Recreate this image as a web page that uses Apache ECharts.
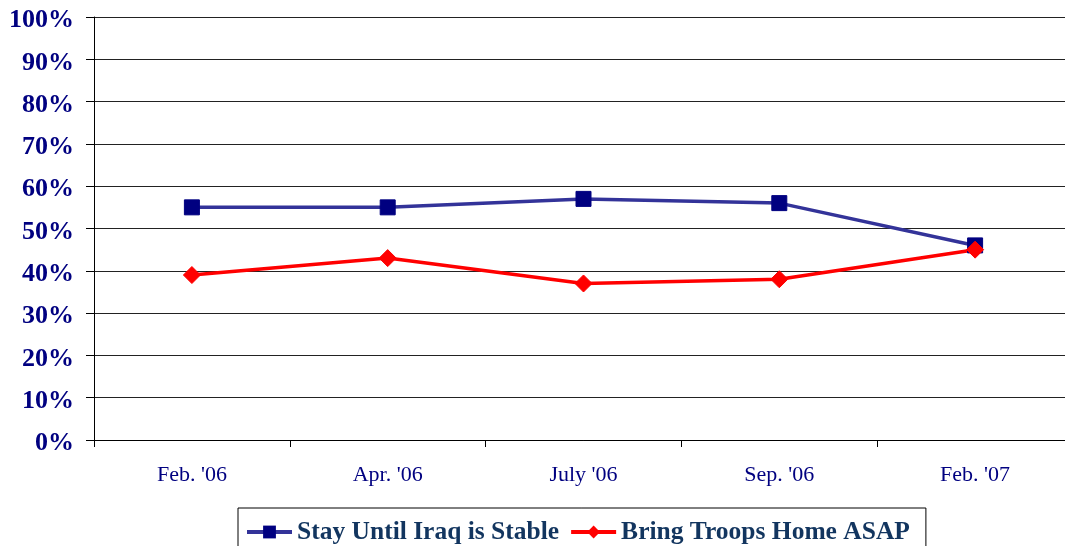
<!DOCTYPE html>
<html>
<head>
<meta charset="utf-8">
<script src="https://cdn.jsdelivr.net/npm/echarts@6/dist/echarts.min.js"></script>
<style>html,body{margin:0;padding:0;background:#fff;overflow:hidden;width:1065px;height:546px;}#c{width:1073px;height:546px;}</style>
</head>
<body>
<div id="c"></div>
<script>
const categories = ["Feb. '06", "Apr. '06", "July '06", "Sep. '06", "Feb. '07"];
const stayValues = [55, 55, 57, 56, 46];
const bringValues = [39, 43, 37, 38, 45];
const seriesNames = ["Stay Until Iraq is Stable", "Bring Troops Home ASAP"];

const chart = echarts.init(document.getElementById('c'));
chart.setOption({
  animation: false,
  backgroundColor: '#fff',
  grid: { left: 94, top: 17, bottom: 106, right: 0, containLabel: false },
  xAxis: {
    type: 'category',
    data: categories,
    boundaryGap: true,
    axisLine: { lineStyle: { color: '#000', width: 1 } },
    axisTick: { show: true, length: 7, lineStyle: { color: '#000' } },
    axisLabel: { margin: 24, color: '#000080', fontFamily: 'Liberation Serif', fontSize: 22 },
    splitLine: { show: false }
  },
  yAxis: {
    type: 'value',
    min: 0, max: 100, interval: 10,
    axisLine: { show: true, lineStyle: { color: '#000', width: 1 } },
    axisTick: { show: true, length: 8, lineStyle: { color: '#000' } },
    axisLabel: {
      formatter: function (v) { return '{a|' + v + '%}'; },
      margin: 20,
      rich: { a: { color: '#000080', fontFamily: 'Liberation Serif', fontWeight: 'bold', fontSize: 26, padding: [7, 0, 0, 0] } }
    },
    splitLine: { show: true, lineStyle: { color: '#222', width: 1.2 } }
  },
  legend: {
    left: 238, top: 508,
    orient: 'horizontal',
    itemWidth: 45, itemHeight: 16, itemGap: 10,
    padding: [11, 16, 14, 7],
    borderColor: '#000', borderWidth: 1,
    backgroundColor: '#fff',
    textStyle: { color: '#12355f', fontFamily: 'Liberation Serif', fontWeight: 'bold', fontSize: 25.5 },
    data: [
      { name: seriesNames[0], lineStyle: { width: 4 } },
      { name: seriesNames[1], lineStyle: { width: 4 } }
    ]
  },
  series: [
    {
      name: seriesNames[0], type: 'line', data: stayValues,
      symbol: 'rect', symbolSize: 15,
      lineStyle: { color: '#333399', width: 3.5 },
      itemStyle: { color: '#000080', borderColor: '#000080' }
    },
    {
      name: seriesNames[1], type: 'line', data: bringValues,
      symbol: 'diamond', symbolSize: 17,
      lineStyle: { color: '#ff0000', width: 3.5 },
      itemStyle: { color: '#ff0000', borderColor: '#ff0000' }
    }
  ]
});
</script>
</body>
</html>
